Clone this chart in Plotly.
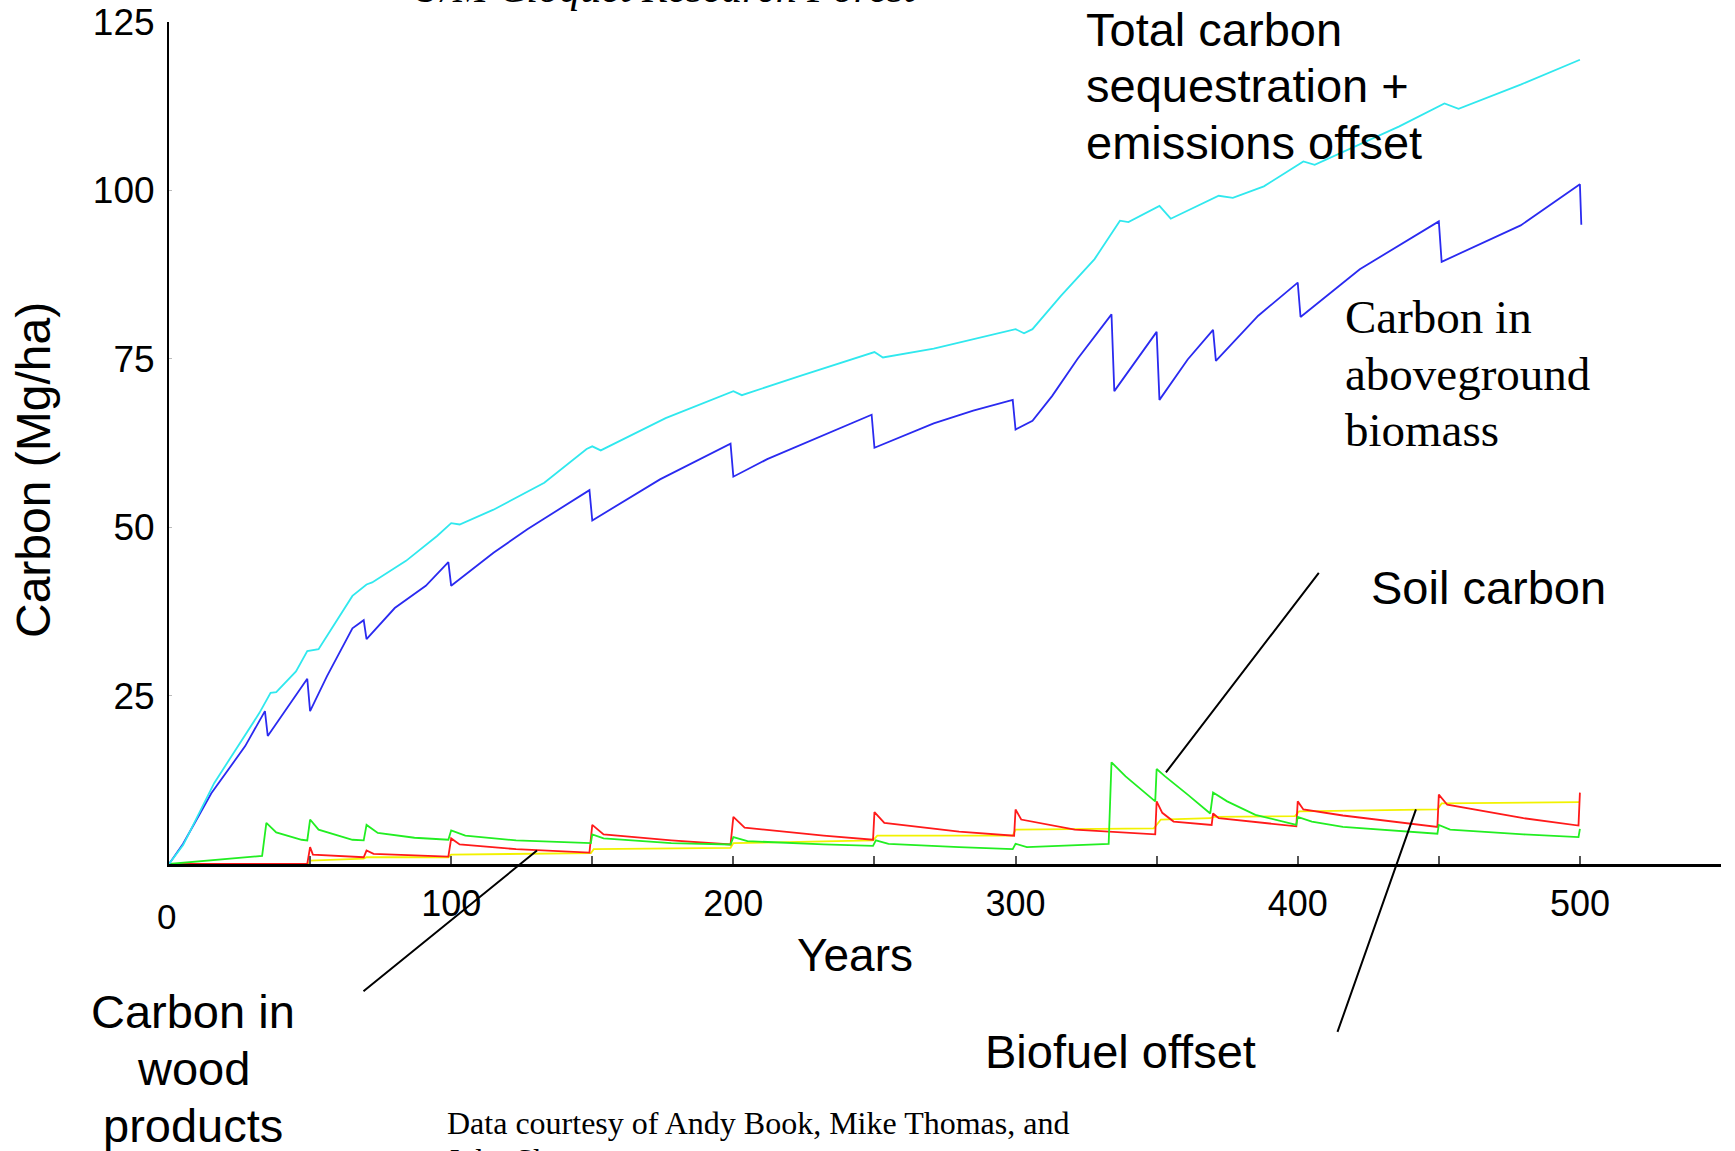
import plotly.graph_objects as go

# ---------------- data ----------------
total_years = [0, 5, 16, 32, 36, 38, 45, 49, 53, 61, 65, 70, 72, 84, 95, 100, 103, 115, 133,
               148, 150, 153, 176, 200, 203, 224, 250, 253, 271, 300, 303, 306, 316, 328, 337,
               340, 351, 355, 372, 377, 388, 402, 406, 436, 452, 457, 479, 500]
total_c = [0, 2.8, 12.0, 22.4, 25.4, 25.5, 28.6, 31.6, 31.9, 37.3, 39.8, 41.5, 41.8, 45.0, 48.7,
           50.6, 50.4, 52.6, 56.6, 61.6, 62.0, 61.4, 66.2, 70.2, 69.6, 72.5, 76.0, 75.2, 76.5,
           79.4, 78.8, 79.4, 84.3, 89.8, 95.5, 95.3, 97.7, 95.8, 99.2, 98.9, 100.6, 104.3, 103.8,
           109.5, 112.9, 112.1, 115.7, 119.4]

biomass_years = [0, 5, 15, 27, 34, 35, 49, 50, 56, 65, 69, 70, 80, 91, 99, 100, 115, 127, 149,
                 150, 174, 199, 200, 212, 249, 250, 271, 285, 299, 300, 306, 313, 322, 334, 335,
                 350, 351, 361, 370, 371, 386, 400, 401, 422, 450, 451, 479, 500, 500.5]
biomass_c = [0, 3.0, 10.5, 17.5, 22.7, 19.0, 27.5, 22.7, 27.9, 35.0, 36.2, 33.4, 38.0, 41.3, 44.8,
             41.3, 46.2, 49.7, 55.5, 51.0, 57.1, 62.4, 57.5, 60.1, 66.7, 61.8, 65.4, 67.3, 68.9,
             64.5, 65.8, 69.5, 75.0, 81.6, 70.2, 79.0, 68.9, 74.9, 79.3, 74.7, 81.4, 86.3, 81.2,
             88.3, 95.4, 89.4, 94.8, 100.9, 94.9]

soil_years = [0, 33, 34.5, 38, 47, 49, 50, 53, 65, 69, 70, 74, 87, 99, 100, 105, 123, 149.5, 150,
              154, 178, 199, 200, 205, 232, 249.5, 250.5, 255, 280, 299, 300, 304, 333, 334, 339,
              349.5, 350, 353, 361, 369, 370, 375, 385, 399.5, 400, 405, 416, 449.5, 450, 454,
              480, 499.5, 500]
soil_c = [0, 1.2, 6.1, 4.7, 3.6, 3.5, 6.6, 5.1, 3.6, 3.5, 5.8, 4.6, 3.9, 3.6, 5.0, 4.2, 3.5, 3.1,
          4.4, 3.8, 3.1, 2.9, 4.0, 3.4, 2.9, 2.7, 3.5, 3.0, 2.5, 2.2, 3.0, 2.5, 3.0, 15.1, 13.0,
          9.3, 14.1, 13.0, 10.3, 7.5, 10.6, 9.3, 7.3, 5.8, 7.0, 6.3, 5.5, 4.5, 5.8, 5.1, 4.4, 4.0,
          5.2]

wood_years = [0, 49, 50, 51, 69, 70, 72.5, 99, 100, 103, 123, 149, 150, 154, 178, 199, 200, 204,
              232, 249.5, 250, 253.5, 280, 299.5, 300, 302, 321, 349.5, 350, 352, 356, 369.5, 370,
              372, 399.5, 400, 402, 416, 449.5, 450, 453, 480, 499.5, 500]
wood_c = [0, 0, 2.5, 1.4, 1.0, 2.0, 1.5, 1.1, 3.8, 2.9, 2.2, 1.7, 5.8, 4.4, 3.5, 2.9, 7.0, 5.4,
          4.2, 3.6, 7.7, 6.1, 4.8, 4.2, 8.1, 6.6, 5.1, 4.4, 9.3, 7.6, 6.3, 5.8, 7.5, 6.8, 5.6, 9.3,
          8.1, 7.2, 5.5, 10.3, 8.8, 6.8, 5.7, 10.6]

biofuel_years = [0, 49.5, 50, 69, 70, 99, 100, 149.5, 150.5, 199, 200, 249.5, 251, 299, 300,
                 349, 351.5, 369, 370, 399, 400.5, 449.5, 451, 500]
biofuel_c = [0, 0, 0.5, 0.8, 1.0, 1.0, 1.4, 1.6, 2.2, 2.4, 3.1, 3.5, 4.2, 4.2, 5.1, 5.3, 6.6,
             6.8, 7.0, 7.1, 7.8, 8.1, 9.0, 9.2]

x_tick_vals = [50, 100, 150, 200, 250, 300, 350, 400, 450, 500, 550]
x_tick_text = ["", "100", "", "200", "", "300", "", "400", "", "500", ""]
y_tick_vals = [25, 50, 75, 100, 125]
y_tick_text = ["25", "50", "75", "100", "125"]

# ---------------- figure ----------------
W, H = 1735, 1151
L, R, T, B = 169, 14, 22, 287
SANS = "Liberation Sans, Arial, sans-serif"
SERIF = "Liberation Serif, Times New Roman, serif"

fig = go.Figure()
series = [
    ("Biofuel offset", biofuel_years, biofuel_c, "#f2f200"),
    ("Carbon in wood products", wood_years, wood_c, "#ff1a1a"),
    ("Soil carbon", soil_years, soil_c, "#22ee22"),
    ("Carbon in aboveground biomass", biomass_years, biomass_c, "#2a2af0"),
    ("Total carbon sequestration + emissions offset", total_years, total_c, "#30e8ee"),
]
for name, xs, ys, col in series:
    fig.add_trace(go.Scatter(x=xs, y=ys, mode="lines", name=name,
                             line=dict(color=col, width=1.8), showlegend=False,
                             cliponaxis=False))


def pp(xp, yp):
    return (xp - L) / (W - L - R), 1 - (yp - T) / (H - T - B)


anns = []


def text(t, xp, yp, size, font=SANS, xanchor="left", angle=0, italic=False):
    x, y = pp(xp, yp)
    anns.append(dict(text=t, x=x, y=y, xref="paper", yref="paper", showarrow=False,
                     xanchor=xanchor, yanchor="middle", textangle=angle,
                     font=dict(family=font, size=size, color="black",
                               style="italic" if italic else "normal")))


for i, line in enumerate(["Total carbon", "sequestration +", "emissions offset"]):
    text(line, 1084, 29 + i * 56.5, 47)
for i, line in enumerate(["Carbon in", "aboveground", "biomass"]):
    text(line, 1343, 317 + i * 56.5, 47, font=SERIF)
text("Soil carbon", 1369, 587, 47)
text("Biofuel offset", 983, 1051, 47)
for i, line in enumerate(["Carbon in", "wood", "products"]):
    text(line, 193, 1012 + i * 56.5, 47, xanchor="center")
text("Years", 855, 955, 46, xanchor="center")
text("Carbon (Mg/ha)", 33, 470, 48, xanchor="center", angle=-90)
text("0", 166, 916, 35, xanchor="center")
text("Data courtesy of Andy Book, Mike Thomas, and", 445, 1123, 32, font=SERIF)
text("John Shaw", 445, 1160, 32, font=SERIF)
text("U/M Cloquet Research Forest", 409, -12, 42, font=SERIF, italic=True)

# callout lines (tip on the data, other end at the label)
for tx, ty, ax, ay in [(353.3, 13.6, 154, -201), (130.4, 2.0, -175, 142), (441.9, 8.1, -79, 224)]:
    anns.append(dict(x=tx, y=ty, xref="x", yref="y", text="", showarrow=True, arrowhead=0,
                     arrowwidth=2, arrowcolor="black", ax=ax, ay=ay, standoff=0,
                     startstandoff=0))

fig.update_layout(
    width=W, height=H,
    margin=dict(l=L, r=R, t=T, b=B, pad=0, autoexpand=False),
    paper_bgcolor="white", plot_bgcolor="white",
    annotations=anns,
    xaxis=dict(range=[0, 550], showgrid=False, zeroline=False, showline=True, automargin=False,
               linecolor="black", linewidth=3, tickvals=x_tick_vals, ticktext=x_tick_text,
               ticks="inside", ticklen=8, tickwidth=1.5, tickcolor="#555",
               tickfont=dict(family=SANS, size=36, color="black"), ticklabelstandoff=6),
    yaxis=dict(range=[0, 125], showgrid=False, zeroline=False, showline=True, automargin=False,
               linecolor="black", linewidth=2, tickvals=y_tick_vals, ticktext=y_tick_text,
               ticks="inside", ticklen=3, tickwidth=1, tickcolor="#bbb",
               tickfont=dict(family=SANS, size=37, color="black"), ticklabelstandoff=5),
)

fig.write_html("out.html", config={"displayModeBar": False},
               post_script="document.body.style.margin='0';document.body.style.overflow='hidden';")
